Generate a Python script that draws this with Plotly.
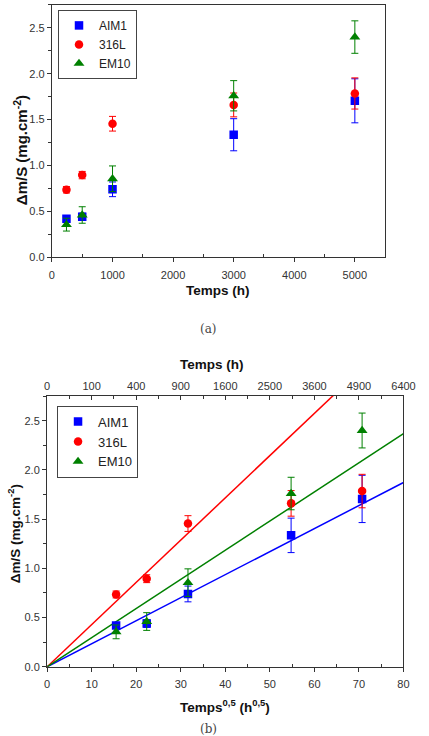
import numpy as np
import plotly.graph_objects as go

W, H = 429, 736

# ---------------- data ----------------
temps_h = [240, 500, 1000, 3000, 5000]
series_names = ["AIM1", "316L", "EM10"]

aim1 = [0.42, 0.44, 0.74, 1.335, 1.705]
aim1_err = [0.03, 0.04, 0.08, 0.175, 0.24]
l316 = [0.735, 0.895, 1.455, 1.66, 1.785]
l316_err = [0.035, 0.04, 0.08, 0.13, 0.17]
em10 = [0.355, 0.46, 0.855, 1.76, 2.40]
em10_err = [0.07, 0.09, 0.14, 0.165, 0.177]

# fitted parabolic slopes (mg.cm-2.h-0.5) for panel (b)
slopes = [0.0234, 0.0429, 0.0296]
fit_x = [0, 80]

top_tickvals = [0, 10, 20, 30, 40, 50, 60, 70, 80]
top_ticktext = ["0", "100", "400", "900", "1600", "2500", "3600", "4900", "6400"]

colors = ["#0000ff", "#ff0000", "#008000"]
symbols = ["square", "circle", "triangle-up"]
ys = [aim1, l316, em10]
errs = [aim1_err, l316_err, em10_err]

sqrt_t = np.sqrt(np.array(temps_h, dtype=float))

fig = go.Figure()

def px_x(v):
    return v / W

def px_y(v):
    return 1 - v / H

SANS = "Arial"

# panel (a)
for name, y, e, c, s in zip(series_names, ys, errs, colors, symbols):
    fig.add_trace(go.Scatter(
        x=temps_h, y=y, mode="markers", name=name,
        marker=dict(color=c, symbol=s, size=8.5 if s != "triangle-up" else 9.5, line=dict(width=0)),
        error_y=dict(type="data", array=e, color=c, thickness=1, width=3.5),
        xaxis="x", yaxis="y", legend="legend",
    ))

# panel (b) fit lines
for slope, c in zip(slopes, colors):
    fx = np.array(fit_x, dtype=float)
    fig.add_trace(go.Scatter(
        x=fx, y=slope * fx, mode="lines", line=dict(color=c, width=1.5),
        showlegend=False, xaxis="x2", yaxis="y2", hoverinfo="skip",
    ))

for name, y, e, c, s in zip(series_names, ys, errs, colors, symbols):
    fig.add_trace(go.Scatter(
        x=sqrt_t, y=y, mode="markers", name=name,
        marker=dict(color=c, symbol=s, size=8.5 if s != "triangle-up" else 9.5, line=dict(width=0)),
        error_y=dict(type="data", array=e, color=c, thickness=1, width=3.5),
        xaxis="x2", yaxis="y2", legend="legend2",
    ))

# dummy trace for top axis
fig.add_trace(go.Scatter(x=[None], y=[None], xaxis="x3", yaxis="y2", showlegend=False))

tickfont = dict(family=SANS, size=11, color="#333333")
axcol = "#333333"

common_x = dict(
    showline=True, linecolor=axcol, linewidth=1.3, mirror=True,
    ticks="outside", ticklen=4, tickcolor=axcol, tickwidth=1,
    showgrid=False, zeroline=False, tickfont=tickfont,
)
common_y = dict(
    showline=True, linecolor=axcol, linewidth=1.3, mirror=True,
    ticks="outside", ticklen=4, tickcolor=axcol, tickwidth=1,
    showgrid=False, zeroline=False, tickfont=tickfont,
)

fig.update_layout(
    width=W, height=H,
    margin=dict(l=0, r=0, t=0, b=0),
    paper_bgcolor="white", plot_bgcolor="white",
    font=dict(family=SANS),
    xaxis=dict(common_x, domain=[px_x(50.7), px_x(396)], range=[0, 5500],
               tickvals=[0, 1000, 2000, 3000, 4000, 5000], ticklabelstandoff=3,
               minor=dict(tickvals=[500, 1500, 2500, 3500, 4500, 5500], ticks="inside", ticklen=3,
                          tickcolor=axcol), anchor="y"),
    yaxis=dict(common_y, domain=[px_y(259.3), px_y(5)], range=[0, 2.75],
               tickvals=[0, 0.5, 1.0, 1.5, 2.0, 2.5], tickformat=".1f",
               minor=dict(tickvals=[0.25, 0.75, 1.25, 1.75, 2.25, 2.75], ticks="outside", ticklen=3,
                          tickcolor=axcol), anchor="x"),
    xaxis2=dict(common_x, domain=[px_x(45.7), px_x(415)], range=[0, 80],
                tickvals=top_tickvals, ticklabelstandoff=3,
                minor=dict(tickvals=[5, 15, 25, 35, 45, 55, 65, 75], ticks="inside", ticklen=3,
                           tickcolor=axcol), anchor="y2"),
    yaxis2=dict(common_y, domain=[px_y(672.3), px_y(399.3)], range=[0, 2.75],
                tickvals=[0, 0.5, 1.0, 1.5, 2.0, 2.5], tickformat=".1f",
                minor=dict(tickvals=[0.25, 0.75, 1.25, 1.75, 2.25, 2.75], ticks="outside", ticklen=3,
                           tickcolor=axcol), anchor="x2"),
    xaxis3=dict(overlaying="x2", side="top", anchor="y2", range=[0, 80],
                tickvals=top_tickvals, ticktext=top_ticktext, ticks="inside", ticklen=4,
                tickcolor=axcol, showline=False, showgrid=False, zeroline=False,
                tickfont=tickfont, ticklabelstandoff=3,
                minor=dict(tickvals=[5, 15, 25, 35, 45, 55, 65, 75], ticks="inside", ticklen=3,
                           tickcolor=axcol)),
    legend=dict(x=px_x(57), y=px_y(10), xanchor="left", yanchor="top",
                bordercolor="#444444", borderwidth=1, bgcolor="white",
                font=dict(family=SANS, size=12, color="#222222"),
                tracegroupgap=0, itemwidth=30),
    legend2=dict(x=px_x(56), y=px_y(409), xanchor="left", yanchor="top",
                 bordercolor="#444444", borderwidth=1, bgcolor="white",
                 font=dict(family=SANS, size=13, color="#222222"),
                 tracegroupgap=0, itemwidth=30),
    showlegend=True,
)

titlefont = dict(family=SANS, size=13.5, color="#111111")
serif = dict(family="DejaVu Serif", size=12, color="#444444")

annots = [
    dict(text="<b>Temps (h)</b>", x=px_x(223), y=px_y(293), font=titlefont),
    dict(text="<b>Δm/S (mg.cm<sup>-2</sup>)</b>", x=px_x(18), y=px_y(151),
         font=dict(titlefont, size=15), textangle=-90),
    dict(text="(a)", x=px_x(213), y=px_y(332), font=serif),
    dict(text="<b>Temps (h)</b>", x=px_x(217), y=px_y(367), font=titlefont),
    dict(text="<b>Δm/S (mg.cm<sup>-2</sup>)</b>", x=px_x(11), y=px_y(538), font=titlefont, textangle=-90),
    dict(text="<b>Temps<sup>0,5</sup> (h<sup>0,5</sup>)</b>", x=px_x(230), y=px_y(712), font=titlefont),
    dict(text="(b)", x=px_x(213), y=px_y(735), font=serif),
]
for a in annots:
    fig.add_annotation(xref="paper", yref="paper", showarrow=False, xanchor="center", yanchor="middle", **a)

fig.write_html("out.html")
